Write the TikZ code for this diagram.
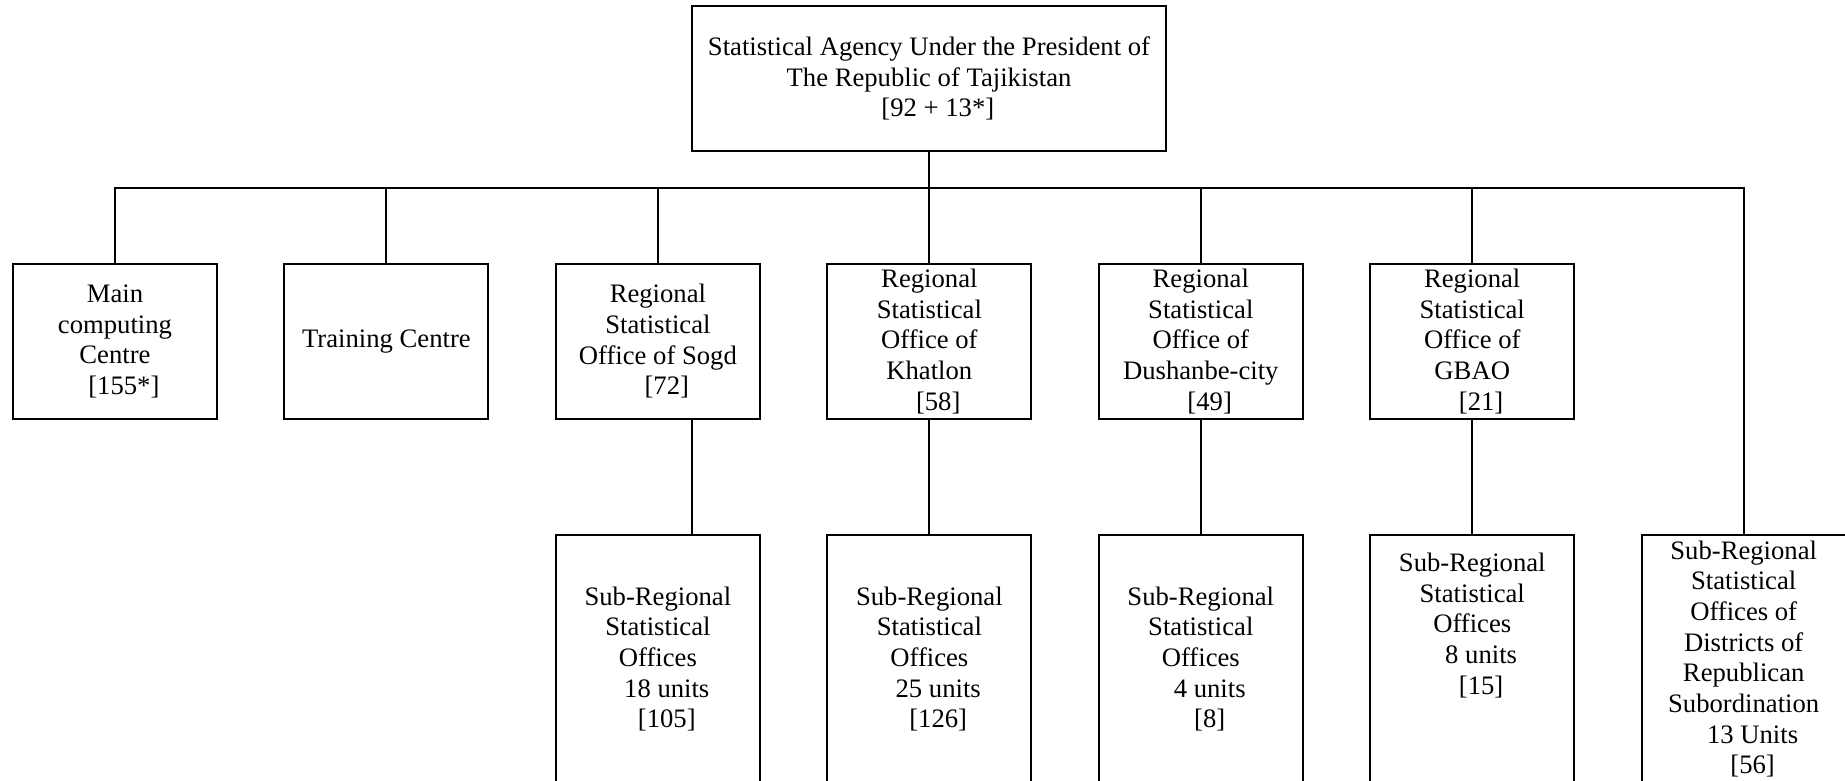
\documentclass[tikz,border=0pt]{standalone}
\usepackage{fontspec}
\setmainfont{Liberation Serif}
\usetikzlibrary{positioning}
\newcommand{\numgap}{\hspace*{8pt}}

\begin{document}
\begin{tikzpicture}[
    x=0.45pt, y=-0.45pt,
    node distance=51.3pt and 29.45pt,
    unit/.style={rectangle, draw, line width=0.9pt, align=center, inner sep=1pt, minimum width=91.8pt, minimum height=69.75pt, font=\fontsize{12}{13.8}\selectfont},
    subunit/.style={unit, minimum height=111.6pt},
    raised/.style={text depth=32pt},
    link/.style={line width=0.9pt}
]
    \useasboundingbox (0,0) rectangle (1845,781);
    \clip (0,0) rectangle (1845,781);

    \node[unit, minimum width=213.3pt, minimum height=65.25pt] (agency) at (929,78.5) {Statistical Agency Under the President of\\The Republic of Tajikistan\\\numgap[92 + 13*]};

    \node[unit] (mcc) at (115,341.5) {Main\\computing\\Centre\\\numgap[155*]};
    \node[unit, right=of mcc] (training) {Training Centre};
    \node[unit, right=of training] (sogd) {Regional\\Statistical\\Office of Sogd\\\numgap[72]};
    \node[unit, right=of sogd] (khatlon) {Regional\\Statistical\\Office of\\Khatlon\\\numgap[58]};
    \node[unit, right=of khatlon] (dushanbe) {Regional\\Statistical\\Office of\\Dushanbe-city\\\numgap[49]};
    \node[unit, right=of dushanbe] (gbao) {Regional\\Statistical\\Office of\\GBAO\\\numgap[21]};

    \node[subunit, below=of sogd] (subsogd) {Sub-Regional\\Statistical\\Offices\\\numgap18 units\\\numgap[105]};
    \node[subunit, below=of khatlon] (subkhatlon) {Sub-Regional\\Statistical\\Offices\\\numgap25 units\\\numgap[126]};
    \node[subunit, below=of dushanbe] (subdushanbe) {Sub-Regional\\Statistical\\Offices\\\numgap4 units\\\numgap[8]};
    \node[subunit, raised, below=of gbao] (subgbao) {Sub-Regional\\Statistical\\Offices\\\numgap8 units\\\numgap[15]};
    \node[subunit, right=of subgbao] (republican) {Sub-Regional\\Statistical\\Offices of\\Districts of\\Republican\\Subordination\\\numgap13 Units\\\numgap[56]};

    % bus line
    \coordinate (bus) at (0,188);
    \draw[link] (agency.south) -- (agency.south |- bus);
    \draw[link] (mcc.north) -- (mcc.north |- bus) -- (republican.north |- bus) -- (republican.north);
    \foreach \n in {training, sogd, khatlon, dushanbe, gbao}
        \draw[link] (\n.north) -- (\n.north |- bus);

    \draw[link] ([xshift=15.3pt]sogd.south) -- ([xshift=15.3pt]subsogd.north);
    \foreach \n in {khatlon, dushanbe, gbao}
        \draw[link] (\n.south) -- (sub\n.north);

\end{tikzpicture}
\end{document}
